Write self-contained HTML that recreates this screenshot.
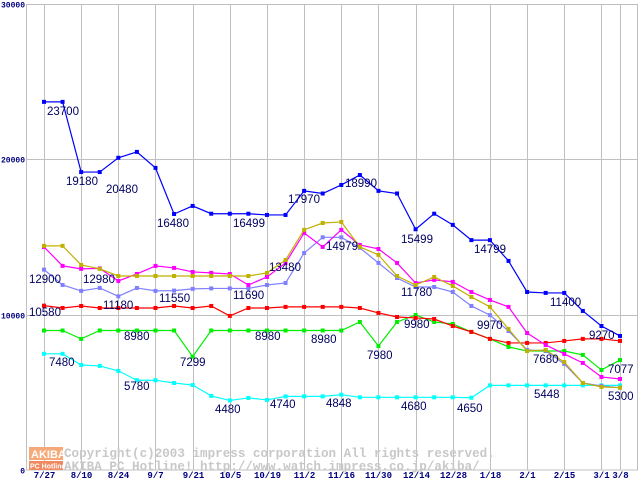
<!DOCTYPE html>
<html><head><meta charset="utf-8"><style>
html,body{margin:0;padding:0;background:#fff}
svg{display:block}
.ax{font-family:"Liberation Mono",monospace;font-size:9px;font-weight:bold;fill:#000080}
.ay{font-family:"Liberation Mono",monospace;font-size:8px;font-weight:bold;fill:#000080}
.lb{font-family:"Liberation Sans",sans-serif;font-size:11.5px;fill:#000060}
.wm{font-family:"Liberation Mono",monospace;font-size:12.6px;font-weight:bold;fill:#c8c8c8}
</style></head><body>
<svg id="chart" width="640" height="480" viewBox="0 0 640 480" xmlns="http://www.w3.org/2000/svg">
<rect width="640" height="480" fill="#fff"/>
<g id="grid"></g>
<g id="wm">
<rect x="29" y="447" width="34" height="13" fill="#f5a878"/>
<text x="31" y="458" font-family="Liberation Sans" font-weight="bold" font-size="11" fill="#fff">AKIBA</text>
<rect x="29" y="461" width="34" height="9" fill="#f08860"/>
<text x="30" y="468.5" font-family="Liberation Sans" font-weight="bold" font-size="7" fill="#fff">PC Hotline!</text>
<text class="wm" x="64" y="457">Copyright(c)2003 impress corporation All rights reserved.</text>
<text class="wm" x="64" y="470">AKIBA PC Hotline!  http://www.watch.impress.co.jp/akiba/</text>
</g>
<g id="series"></g>
<g id="labels" class="lb">
<text x="47" y="115">23700</text>
<text x="66" y="185">19180</text>
<text x="106" y="193">20480</text>
<text x="157" y="227">16480</text>
<text x="233" y="227">16499</text>
<text x="288" y="203">17970</text>
<text x="345" y="187">18990</text>
<text x="401" y="243">15499</text>
<text x="474" y="253">14799</text>
<text x="550" y="306">11400</text>
<text x="589" y="339">9270</text>
<text x="29" y="283">12900</text>
<text x="83" y="283">12980</text>
<text x="103" y="309">11180</text>
<text x="29" y="316">10580</text>
<text x="159" y="302">11550</text>
<text x="233" y="299">11690</text>
<text x="269" y="271">13480</text>
<text x="326" y="250">14979</text>
<text x="401" y="296">11780</text>
<text x="477" y="329">9970</text>
<text x="533" y="363">7680</text>
<text x="608" y="400">5300</text>
<text x="608" y="373">7077</text>
<text x="124" y="340">8980</text>
<text x="255" y="340">8980</text>
<text x="311" y="343">8980</text>
<text x="180" y="366">7299</text>
<text x="49" y="366">7480</text>
<text x="367" y="359">7980</text>
<text x="404" y="328">9980</text>
<text x="124" y="390">5780</text>
<text x="215" y="413">4480</text>
<text x="270" y="408">4740</text>
<text x="326" y="407">4848</text>
<text x="401" y="410">4680</text>
<text x="457" y="412">4650</text>
<text x="534" y="398">5448</text>
</g>
</svg>
<script>
const categories = ["7/27","","8/10","","8/24","","9/7","","9/21","","10/5","","10/19","","11/2","","11/16","","11/30","","12/14","","12/28","","1/18","","2/1","","2/15","","3/1","3/8"];
const yTicks = [0,10000,20000,30000];
const blueValues = [23700,23700,19180,19180,20100,20480,19450,16480,17000,16499,16499,16499,16420,16420,17970,17800,18350,18990,17970,17800,15499,16500,15780,14799,14799,13460,11460,11400,11400,10240,9270,8630];
const oliveValues = [14430,14430,13200,12950,12490,12490,12490,12490,12490,12490,12490,12490,12690,13520,15460,15900,15970,14360,13850,12490,11910,12430,11850,11140,10500,9080,7660,7730,6950,5600,5350,5300];
const magentaValues = [14360,13140,12950,12980,12170,12620,13140,13010,12750,12690,12620,11910,12430,13330,15260,14360,15460,14490,14230,13330,12040,12240,12110,11460,10950,10500,8820,8050,7470,6890,5990,5860];
const lavenderValues = [12900,11910,11530,11720,11180,11720,11530,11550,11660,11690,11690,11690,11910,12040,13970,14979,14979,14300,13330,12360,11780,11780,11460,10560,9970,8950,7730,7680,6830,5600,5410,5300];
const redValues = [10580,10430,10560,10430,10430,10430,10430,10560,10430,10560,9920,10430,10430,10500,10500,10500,10500,10430,10110,9850,9790,9720,9270,8890,8440,8180,8180,8180,8310,8440,8440,8310];
const greenValues = [8980,8980,8440,8980,8980,8980,8980,8980,7299,8980,8980,8980,8980,8980,8980,8980,8980,9530,7980,9530,9980,9530,9400,8890,8440,7920,7660,7660,7660,7410,6440,7077];
const cyanValues = [7480,7480,6760,6700,6380,5780,5780,5600,5470,4770,4480,4640,4510,4740,4740,4740,4848,4680,4680,4680,4680,4680,4680,4650,5448,5448,5448,5448,5448,5448,5448,5448];

const NS="http://www.w3.org/2000/svg";
const X0=44, X1=620, YB=470, YT=4, VMAX=30000;
function xs(i){return X0+i*(X1-X0)/(categories.length-1);}
function ys(v){return YB-(v/VMAX)*(YB-YT);}
function mk(tag,attrs,parent){const e=document.createElementNS(NS,tag);for(const k in attrs)e.setAttribute(k,attrs[k]);parent.appendChild(e);return e;}
const grid=document.getElementById('grid');
let fr=mk('rect',{x:26.5,y:4.5,width:611,height:465.5,fill:'none',stroke:'#c0c0c0'},grid);


categories.forEach((c,i)=>{
  if(!c) return;
  const x=Math.round(xs(i))+0.5;
  const l=mk('line',{x1:x,y1:4,x2:x,y2:470,stroke:'#c0c0c0'},grid);
  
  
  const t=mk('text',{x:x,y:478,'text-anchor':'middle','class':'ax'},grid);
  t.textContent=c;
  
  
});
yTicks.forEach(v=>{
  const y=Math.round(ys(v))+0.5;
  if(v>0&&v<VMAX){
    const l=mk('line',{x1:26,y1:y,x2:638,y2:y,stroke:'#c0c0c0'},grid);
    
    
  }
  const t=mk('text',{x:25,y:y+3,'text-anchor':'end','class':'ay'},grid);
  t.textContent=String(v);
  
  
});
const seriesDefs={cyan:[cyanValues,'#00ffff'],green:[greenValues,'#00ee00'],red:[redValues,'#ff0000'],lavender:[lavenderValues,'#8080ff'],magenta:[magentaValues,'#ff00ff'],olive:[oliveValues,'#c0b000'],blue:[blueValues,'#0000ff']};
const sg=document.getElementById('series');
Object.keys(seriesDefs).forEach(name=>{
  const [vals,col]=seriesDefs[name];
  const g=mk('g',{},sg);
  
  
  const p=mk('polyline',{points:vals.map((v,i)=>xs(i)+','+ys(v)).join(' '),fill:'none',stroke:col,'stroke-width':1.2},g);
  
  
  vals.forEach((v,i)=>{
    const r=mk('rect',{x:xs(i)-2,y:ys(v)-2,width:4,height:4,fill:col},g);
    
    
  });
});
</script>
</body></html>
